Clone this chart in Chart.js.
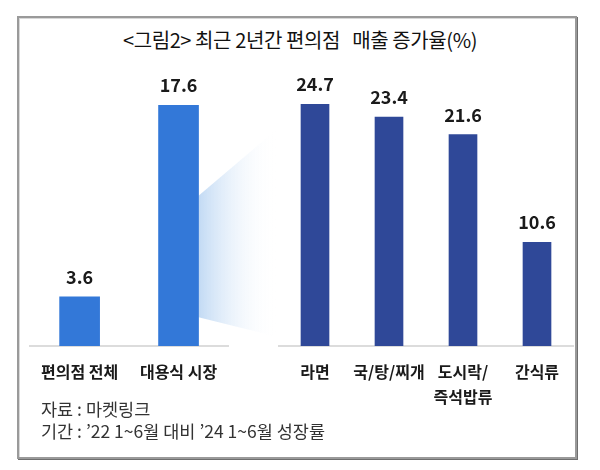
<!DOCTYPE html>
<html>
<head>
<meta charset="utf-8">
<script src="https://cdn.jsdelivr.net/npm/chart.js@4.4.1/dist/chart.umd.min.js"></script>
<style>
  body { margin: 0; background: #fff; font-family: "Noto Sans CJK KR", sans-serif; }
  #page { position: relative; width: 600px; height: 470px; overflow: hidden; }
  #frame {
    position: absolute; left: 17px; top: 16px; width: 556px; height: 439px;
    border: 2px solid #9a9a9a;
    box-shadow: inset 1px 1px 0 #d8d8d8, 1px 1px 0 #6f6f6f;
  }
  #title {
    position: absolute; left: 0; top: 25px; width: 600px; text-align: center;
    font-size: 20px; color: #111; letter-spacing: -0.4px;
  }
  #note {
    position: absolute; left: 41px; top: 398px;
    font-size: 17.5px; line-height: 22px; color: #333;
  }
  #wrapA { position: absolute; left: 28px; top: 60px; width: 252px; height: 346px; }
  #wrapB { position: absolute; left: 278px; top: 60px; width: 296px; height: 346px; }
</style>
</head>
<body>
<div id="page">
  <div id="frame"></div>
  <div id="title">&lt;그림2&gt; 최근 2년간 편의점&nbsp;&nbsp; 매출 증가율(%)</div>
  <div id="wrapA"><canvas id="chartA"></canvas></div>
  <div id="wrapB"><canvas id="chartB"></canvas></div>
  <div id="note">자료 : 마켓링크<br>기간 : ’22 1~6월 대비 ’24 1~6월 성장률</div>
</div>
<script>
// ---------- Data ----------

const totalLabels = ["편의점 전체", "대용식 시장"];
const totalValues = [3.6, 17.6];

const mealLabels = ["라면", "국/탕/찌개", ["도시락/", "즉석밥류"], "간식류"];
const mealValues = [24.7, 23.4, 21.6, 10.6];

const font = "'Noto Sans CJK KR', sans-serif";

// value above each bar
const valueLabels = {
    id: "valueLabels",
    afterDatasetsDraw(chart) {
        const ctx = chart.ctx;
        const meta = chart.getDatasetMeta(0);
        ctx.save();
        ctx.font = "bold 18px " + font;
        ctx.fillStyle = "#1a1a1a";
        ctx.textAlign = "center";
        ctx.textBaseline = "middle";
        meta.data.forEach((bar, i) => {
            ctx.fillText(chart.data.datasets[0].data[i].toFixed(1), bar.x, bar.y - 20);
        });
        ctx.restore();
    }
};

// light blue wedge from the 대용식 bar towards the breakdown
const wedge = {
    id: "wedge",
    beforeDatasetsDraw(chart) {
        const ctx = chart.ctx;
        const bar = chart.getDatasetMeta(0).data[1];
        const y = chart.scales.y;
        const x0 = bar.x + bar.width / 2;
        const x1 = chart.chartArea.right + 48;
        const g = ctx.createLinearGradient(x0, 0, x1, 0);
        g.addColorStop(0, "rgba(194,218,244,1)");
        g.addColorStop(1, "rgba(255,255,255,0)");
        ctx.save();
        ctx.fillStyle = g;
        ctx.beginPath();
        ctx.moveTo(x0, y.getPixelForValue(11.0));
        ctx.lineTo(x1, y.getPixelForValue(15.8));
        ctx.lineTo(x1, y.getPixelForValue(0.7));
        ctx.lineTo(x0, y.getPixelForValue(2.1));
        ctx.closePath();
        ctx.fill();
        ctx.restore();
    }
};

function createChart(canvasId, labels, values, color, yMax, barWidth, padRight, extra) {

    return new Chart(document.getElementById(canvasId), {

        type: "bar",

        data: {
            labels: labels,
            datasets: [{
                data: values,
                backgroundColor: color,
                barThickness: barWidth
            }]
        },

        options: {
            responsive: true,
            maintainAspectRatio: false,
            animation: false,
            layout: {
                padding: { top: 14, right: padRight, left: 0, bottom: 0 }
            },
            plugins: {
                legend: { display: false },
                tooltip: { enabled: false }
            },
            scales: {
                x: {
                    grid: { display: false, drawTicks: false },
                    border: { display: true, color: "#dcdcdc", width: 2 },
                    ticks: {
                        color: "#1a1a1a",
                        padding: 13,
                        maxRotation: 0,
                        minRotation: 0,
                        autoSkip: false,
                        font: { family: font, size: 16, weight: "bold", lineHeight: 1.6 }
                    },
                    afterFit(scale) { scale.height = 60; }
                },
                y: {
                    display: false,
                    min: 0,
                    max: yMax
                }
            }
        },

        plugins: extra

    });

}

// -------- Create Charts --------

createChart("chartA", totalLabels, totalValues, "#3378d8", 19.9, 40, 52, [wedge, valueLabels]);

createChart("chartB", mealLabels, mealValues, "#2f4898", 27.8, 28, 0, [valueLabels]);
</script>
</body>
</html>
